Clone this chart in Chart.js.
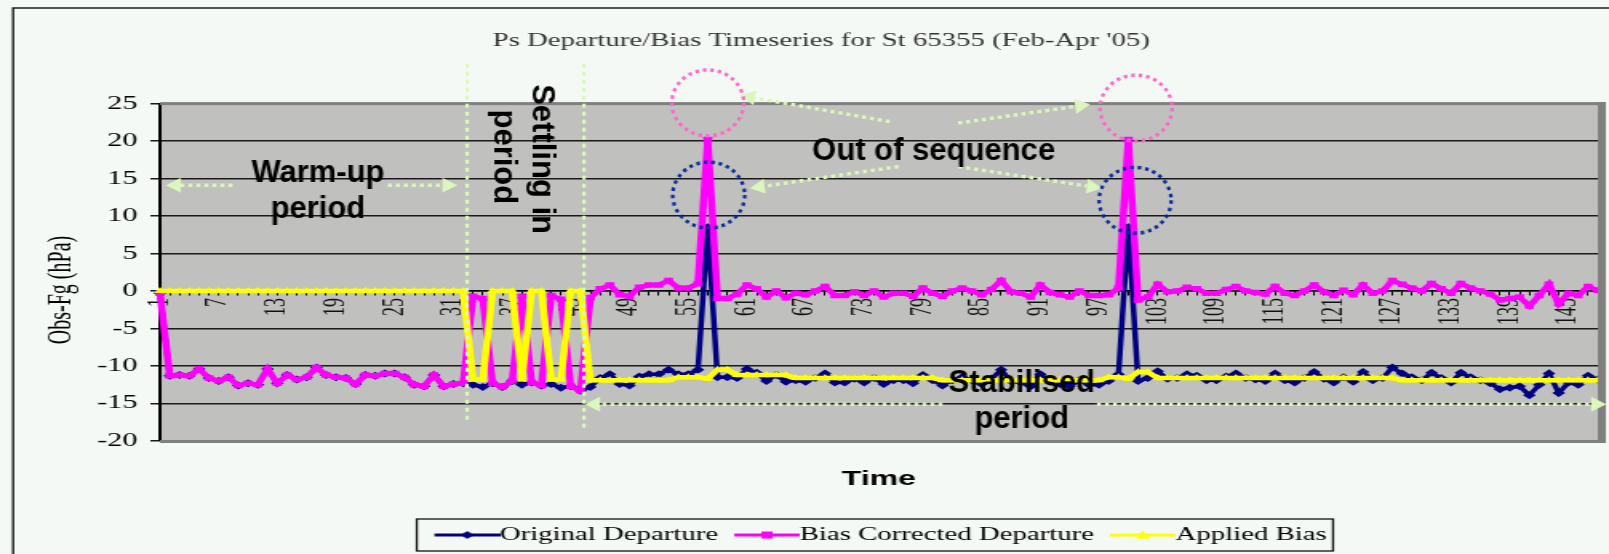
<!DOCTYPE html>
<html>
<head>
<meta charset="utf-8">
<script src="https://cdn.jsdelivr.net/npm/chart.js@4.4.1/dist/chart.umd.min.js"></script>
<style>
  html, body { margin: 0; padding: 0; background: #f5f9f6; overflow: hidden; }
  #chart { display: block; }
</style>
</head>
<body>
<!-- the original is an old spreadsheet chart stretched sideways, so the canvas is drawn narrow and widened by CSS -->
<canvas id="chart" width="1006" height="554" style="width:1609px;height:554px"></canvas>
<script>
const STRETCH = 1609 / 1006;

const categories = Array.from({ length: 148 }, (_, i) => String(i + 1));
const tickLabels = ['1', '7', '13', '19', '25', '31', '37', '43', '49', '55', '61', '67', '73', '79', '85',
  '91', '97', '103', '109', '115', '121', '127', '133', '139', '145'];

const originalDeparture = [
  -0.3, -11.3, -11.2, -11.3, -10.4, -11.6, -12.0, -11.5, -12.6, -12.3,
  -12.5, -10.4, -12.3, -11.2, -11.8, -11.5, -10.2, -11.2, -11.5, -11.6,
  -12.4, -11.2, -11.3, -11.0, -11.0, -11.5, -12.5, -12.7, -11.2, -12.7,
  -12.4, -12.3, -12.5, -12.8, -12.3, -12.8, -12.0, -12.5, -12.2, -12.6,
  -12.4, -12.9, -12.7, -13.3, -12.8, -11.6, -11.1, -12.4, -12.6, -11.4,
  -11.1, -11.1, -10.5, -11.1, -11.1, -10.5, 8.5, -11.5, -11.5, -11.6,
  -10.4, -10.9, -12.0, -11.2, -12.1, -11.9, -12.1, -11.6, -11.0, -12.2,
  -12.2, -11.7, -12.2, -11.6, -12.4, -11.9, -11.9, -12.3, -11.2, -11.9,
  -12.6, -11.9, -11.5, -11.9, -12.4, -11.7, -10.5, -12.0, -12.2, -12.7,
  -11.1, -12.1, -12.4, -12.7, -11.9, -12.5, -12.5, -12.0, -11.1, 8.5,
  -12.0, -11.6, -10.7, -11.7, -11.6, -11.1, -11.3, -11.9, -11.9, -11.4,
  -11.0, -11.6, -11.8, -12.0, -11.0, -11.9, -12.2, -11.6, -10.8, -11.7,
  -12.2, -11.5, -12.1, -10.8, -11.9, -11.6, -10.2, -11.0, -11.5, -11.9,
  -10.9, -11.6, -12.2, -10.9, -11.5, -11.9, -12.3, -13.1, -12.9, -12.7,
  -13.9, -12.5, -11.0, -13.6, -12.2, -12.5, -11.3, -11.8
];

const biasCorrectedDeparture = [
  -0.3, -11.3, -11.2, -11.3, -10.4, -11.6, -12.0, -11.5, -12.6, -12.3,
  -12.5, -10.4, -12.3, -11.2, -11.8, -11.5, -10.2, -11.2, -11.5, -11.6,
  -12.4, -11.2, -11.3, -11.0, -11.0, -11.5, -12.5, -12.7, -11.2, -12.7,
  -12.4, -12.3, -0.7, -1.0, -12.3, -12.8, -12.0, -0.7, -12.2, -12.6,
  -0.6, -1.1, -12.7, -13.3, -0.9, 0.3, 0.8, -0.5, -0.7, 0.5,
  0.8, 0.8, 1.4, 0.4, 0.4, 1.0, 20.2, -1.0, -1.0, -0.4,
  0.8, 0.3, -0.8, 0.0, -0.9, -0.3, -0.5, 0.0, 0.6, -0.6,
  -0.6, -0.1, -0.6, 0.0, -0.8, -0.3, -0.3, -0.7, 0.4, -0.3,
  -0.7, 0.0, 0.4, 0.0, -0.5, 0.2, 1.4, -0.1, -0.3, -0.8,
  0.8, -0.2, -0.5, -0.8, 0.0, -0.6, -0.6, -0.5, 0.4, 20.2,
  -1.2, -0.8, 0.9, -0.1, 0.0, 0.5, 0.3, -0.3, -0.3, 0.2,
  0.6, 0.0, -0.2, -0.4, 0.6, -0.3, -0.6, 0.0, 0.8, -0.1,
  -0.6, 0.1, -0.5, 0.8, -0.3, 0.0, 1.4, 0.9, 0.4, 0.0,
  1.0, 0.3, -0.3, 1.0, 0.4, 0.0, -0.4, -1.2, -1.0, -0.8,
  -2.0, -0.6, 0.9, -1.7, -0.3, -0.6, 0.6, 0.1
];

const appliedBias = [
  0, 0, 0, 0, 0, 0, 0, 0, 0, 0,
  0, 0, 0, 0, 0, 0, 0, 0, 0, 0,
  0, 0, 0, 0, 0, 0, 0, 0, 0, 0,
  0, 0, -11.8, -11.8, 0, 0, 0, -11.8, 0, 0,
  -11.8, -11.8, 0, 0, -11.9, -11.9, -11.9, -11.9, -11.9, -11.9,
  -11.9, -11.9, -11.9, -11.5, -11.5, -11.5, -11.7, -10.5, -10.5, -11.2,
  -11.2, -11.2, -11.2, -11.2, -11.2, -11.6, -11.6, -11.6, -11.6, -11.6,
  -11.6, -11.6, -11.6, -11.6, -11.6, -11.6, -11.6, -11.6, -11.6, -11.6,
  -11.9, -11.9, -11.9, -11.9, -11.9, -11.9, -11.9, -11.9, -11.9, -11.9,
  -11.9, -11.9, -11.9, -11.9, -11.9, -11.9, -11.9, -11.5, -11.5, -11.7,
  -10.8, -10.8, -11.6, -11.6, -11.6, -11.6, -11.6, -11.6, -11.6, -11.6,
  -11.6, -11.6, -11.6, -11.6, -11.6, -11.6, -11.6, -11.6, -11.6, -11.6,
  -11.6, -11.6, -11.6, -11.6, -11.6, -11.6, -11.6, -11.9, -11.9, -11.9,
  -11.9, -11.9, -11.9, -11.9, -11.9, -11.9, -11.9, -11.9, -11.9, -11.9,
  -11.9, -11.9, -11.9, -11.9, -11.9, -11.9, -11.9, -11.9
];

const NAVY = '#000080';
const PINK = '#ff00ff';
const YELLOW = '#ffff00';
const PALE = '#dcf7bd';
const SERIF = '"Liberation Serif", "Times New Roman", serif';
const SANS = '"Liberation Sans", Arial, sans-serif';

// little line+marker pictures for the legend, like the spreadsheet legend
function legendSample(color, marker) {
  const c = document.createElement('canvas');
  c.width = 52; c.height = 12;
  const g = c.getContext('2d');
  g.strokeStyle = color; g.fillStyle = color; g.lineWidth = 3;
  g.beginPath(); g.moveTo(11, 6); g.lineTo(52, 6); g.stroke();
  const cx = 31.5, cy = 6;
  g.beginPath();
  if (marker === 'diamond') {
    g.moveTo(cx, cy - 4); g.lineTo(cx + 4, cy); g.lineTo(cx, cy + 4); g.lineTo(cx - 4, cy);
  } else if (marker === 'square') {
    g.rect(cx - 3.5, cy - 3.5, 7, 7);
  } else {
    g.moveTo(cx, cy - 4.5); g.lineTo(cx + 4.5, cy + 3.5); g.lineTo(cx - 4.5, cy + 3.5);
  }
  g.closePath(); g.fill();
  return c;
}
const legendSamples = [legendSample(NAVY, 'diamond'), legendSample(PINK, 'square'), legendSample(YELLOW, 'triangle')];

// callouts added on top of the chart (in category index / hPa units)
const notes = {
  vlines: [{ i: 31.4, v0: 30.3, v1: -17.6 }, { i: 43.35, v0: 30.3, v1: -18.7 }],
  arrows: [
    [7.4, 14.1, 0.6, 14.1], [23.3, 14.1, 30.4, 14.1],
    [80.0, -15.1, 43.45, -15.1], [95.8, -15.1, 147.85, -15.1],
    [74.6, 22.6, 59.3, 26.1], [75.5, 16.6, 60.3, 13.7],
    [81.6, 22.4, 95.1, 24.9], [81.6, 16.6, 96.3, 13.7]
  ],
  circles: [
    { i: 56.0, v: 25.1, color: '#ff66c8' }, { i: 56.1, v: 12.8, color: '#0a2a9a' },
    { i: 99.8, v: 24.4, color: '#ff66c8' }, { i: 99.7, v: 12.1, color: '#0a2a9a' }
  ],
  texts: [
    { t: 'Warm-up', i: 16.15, v: 14.6 }, { t: 'period', i: 16.15, v: 9.7 },
    { t: 'Out of sequence', i: 79.1, v: 17.5 },
    { t: 'Stabilised', i: 88.1, v: -13.5 }, { t: 'period', i: 88.1, v: -18.3 }
  ],
  rotated: [{ t: 'Settling in', i: 38.9, v: 17.6 }, { t: 'period', i: 35.1, v: 17.9 }]
};

function dottedArrow(ctx, a, b) {
  const ang = Math.atan2(b.y - a.y, b.x - a.x);
  const head = 15, half = 7.5;
  const ex = b.x - Math.cos(ang) * head, ey = b.y - Math.sin(ang) * head;
  ctx.setLineDash([4, 4]);
  ctx.beginPath(); ctx.moveTo(a.x, a.y); ctx.lineTo(ex, ey); ctx.stroke();
  ctx.setLineDash([]);
  ctx.beginPath();
  ctx.moveTo(b.x, b.y);
  ctx.lineTo(ex + Math.sin(ang) * half, ey - Math.cos(ang) * half);
  ctx.lineTo(ex - Math.sin(ang) * half, ey + Math.cos(ang) * half);
  ctx.closePath(); ctx.fill();
}

const decor = {
  id: 'decor',
  beforeDraw(chart) {
    const { ctx, chartArea: a } = chart;
    ctx.save();
    ctx.fillStyle = '#f5f9f6';
    ctx.fillRect(0, 0, chart.width, chart.height);
    ctx.fillStyle = '#c0c0bf';
    ctx.fillRect(a.left, a.top, a.right - a.left, a.bottom - a.top);
    ctx.strokeStyle = '#1e1e1e';
    ctx.lineWidth = 1.4;
    ctx.beginPath();
    ctx.moveTo(8.2, chart.height); ctx.lineTo(8.2, 8); ctx.lineTo(chart.width, 8);
    ctx.stroke();
    ctx.restore();
  },
  afterDatasetsDraw(chart) {
    const { ctx, chartArea: a } = chart;
    ctx.save();
    ctx.fillStyle = '#7f7f7f';
    ctx.fillRect(a.left, a.top - 1.5, a.right - a.left + 5, 3);
    ctx.fillRect(a.left, a.bottom - 1, a.right - a.left + 5, 3);
    ctx.fillRect(a.right, a.top - 1.5, 5, a.bottom - a.top + 3);
    ctx.restore();
  },
  afterDraw(chart) {
    const { ctx } = chart;
    const xs = chart.scales.x, ys = chart.scales.y;
    // y axis title (part of the stretched chart picture)
    ctx.save();
    ctx.translate(38.8, 290);
    ctx.rotate(-Math.PI / 2);
    ctx.font = '20px ' + SERIF;
    ctx.fillStyle = '#000';
    ctx.textAlign = 'center';
    ctx.textBaseline = 'middle';
    ctx.fillText('Obs-Fg (hPa)', 0, 0);
    ctx.restore();
    // frame round the legend
    const hb = chart.legend.legendHitBoxes;
    if (hb && hb.length) {
      const last = hb[hb.length - 1];
      const x0 = hb[0].left - 9, x1 = last.left + last.width + 4;
      const cy = hb[0].top + hb[0].height / 2;
      ctx.save();
      ctx.strokeStyle = '#111';
      ctx.lineWidth = 1.3;
      ctx.strokeRect(x0, cy - 16, x1 - x0, 32);
      ctx.restore();
    }
    // callouts: drawn unstretched
    const P = (i, v) => ({ x: xs.getPixelForValue(i) * STRETCH, y: ys.getPixelForValue(v) });
    ctx.save();
    ctx.scale(1 / STRETCH, 1);
    ctx.strokeStyle = PALE; ctx.fillStyle = PALE; ctx.lineWidth = 3.5;
    notes.vlines.forEach(l => {
      const p0 = P(l.i, l.v0), p1 = P(l.i, l.v1);
      ctx.setLineDash([4, 4]);
      ctx.beginPath(); ctx.moveTo(p0.x, p0.y); ctx.lineTo(p1.x, p1.y); ctx.stroke();
    });
    notes.arrows.forEach(r => dottedArrow(ctx, P(r[0], r[1]), P(r[2], r[3])));
    notes.circles.forEach(c => {
      const p = P(c.i, c.v);
      ctx.strokeStyle = c.color; ctx.lineWidth = 3.5; ctx.setLineDash([3.5, 4]);
      ctx.beginPath(); ctx.ellipse(p.x, p.y, 36, 33, 0, 0, Math.PI * 2); ctx.stroke();
    });
    ctx.setLineDash([]);
    ctx.fillStyle = '#000';
    ctx.font = 'bold 31px ' + SANS;
    ctx.textAlign = 'center';
    ctx.textBaseline = 'alphabetic';
    notes.texts.forEach(t => { const p = P(t.i, t.v); ctx.fillText(t.t, p.x, p.y); });
    ctx.textBaseline = 'middle';
    notes.rotated.forEach(t => {
      const p = P(t.i, t.v);
      ctx.save(); ctx.translate(p.x, p.y); ctx.rotate(Math.PI / 2);
      ctx.fillText(t.t, 0, 0);
      ctx.restore();
    });
    ctx.restore();
  }
};

function series(label, data, color, style, radius, width, order) {
  return {
    label, data, order,
    borderColor: color, backgroundColor: color,
    borderWidth: width, pointStyle: style, pointRadius: radius,
    pointBorderWidth: 0, pointBackgroundColor: color, tension: 0
  };
}

new Chart(document.getElementById('chart'), {
  type: 'line',
  data: {
    labels: categories,
    datasets: [
      series('Original Departure', originalDeparture, NAVY, 'rectRot', 4, 3.5, 3),
      series('Bias Corrected Departure', biasCorrectedDeparture, PINK, 'rect', 4, 4.5, 2),
      series('Applied Bias', appliedBias, YELLOW, 'triangle', 4, 4.5, 1)
    ]
  },
  options: {
    responsive: false,
    devicePixelRatio: 1,
    animation: false,
    events: [],
    layout: { padding: { left: 28, right: 7, top: 0, bottom: 0 } },
    plugins: {
      title: {
        display: true,
        text: 'Ps Departure/Bias Timeseries for St 65355 (Feb-Apr \'05)',
        color: '#333',
        font: { family: SERIF, size: 18, weight: 'normal' },
        padding: { top: 30, bottom: 52 }
      },
      legend: {
        position: 'bottom',
        fullSize: false,
        labels: {
          usePointStyle: true,
          pointStyleWidth: 34,
          padding: 8,
          color: '#000',
          font: { family: SERIF, size: 18 },
          generateLabels: (chart) => chart.data.datasets.map((ds, i) => ({
            text: ds.label, pointStyle: legendSamples[i], fillStyle: ds.borderColor,
            strokeStyle: ds.borderColor, lineWidth: 0, hidden: false, datasetIndex: i, fontColor: '#000'
          }))
        }
      },
      tooltip: { enabled: false }
    },
    scales: {
      x: {
        type: 'category',
        position: { y: 0 },
        offset: false,
        grid: { display: true, drawOnChartArea: false, drawTicks: true, tickLength: 4, color: '#000', lineWidth: 1 },
        border: { display: true, color: '#000', width: 1.5 },
        ticks: {
          autoSkip: false, maxRotation: 90, minRotation: 90, padding: 3,
          color: '#111', font: { family: SERIF, size: 18 },
          callback: (v, i) => tickLabels.includes(categories[i]) ? categories[i] : ''
        },
        afterFit: (s) => { s.paddingLeft = 0; s.paddingRight = 0; }
      },
      x2: {
        type: 'category',
        position: 'bottom',
        labels: categories,
        grid: { display: false, drawTicks: false },
        border: { display: false },
        ticks: { display: false },
        title: {
          display: true, text: 'Time', color: '#000',
          font: { family: SANS, size: 20, weight: 'bold' },
          padding: { top: 26, bottom: 27 }
        }
      },
      y: {
        position: 'left',
        min: -20, max: 25,
        grid: { color: '#1a1a1a', lineWidth: 1.5, tickLength: 6, drawTicks: true },
        border: { display: true, color: '#000', width: 2 },
        ticks: { stepSize: 5, padding: 8, color: '#000', font: { family: SERIF, size: 19 } },
        afterFit: (s) => { s.width = 72; s.paddingTop = 0; s.paddingBottom = 0; }
      }
    }
  },
  plugins: [decor]
});
</script>
</body>
</html>
